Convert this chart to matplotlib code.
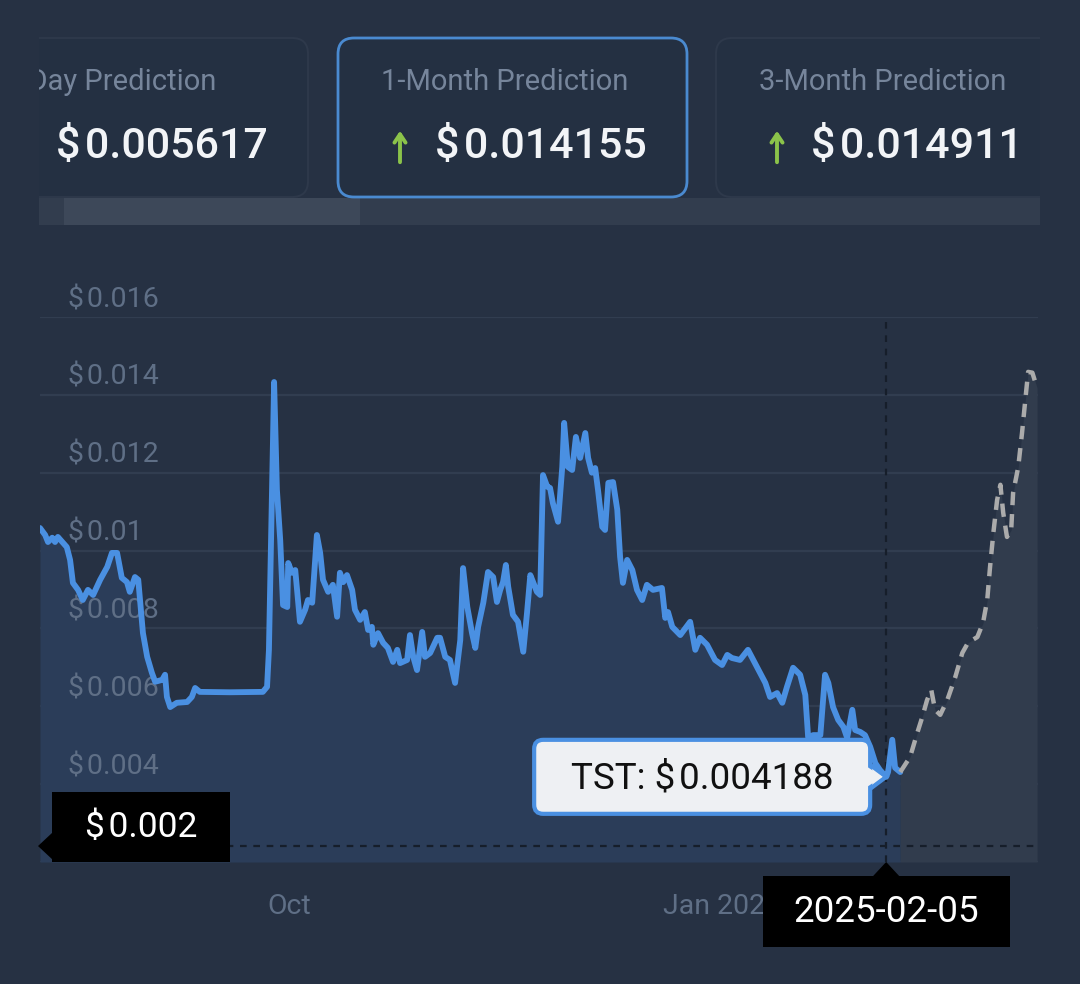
import matplotlib

matplotlib.use("Agg")
import matplotlib.patches as mpatches
import matplotlib.pyplot as plt
import pandas as pd

W, H = 1080, 984
START = pd.Timestamp("2024-08-09")

BG = "#263143"
GRID = "#313d50"
TICK_C = "#5f6f86"
BLUE = "#4a90e2"
SP = "\u200a"  # narrow gap after the dollar sign

# price history: days since START, price in USD
hist_day = [
    0.0, 1.1, 1.7, 2.6, 3.2, 3.8, 4.9, 5.7, 6.4, 7.0,
    8.1, 9.1, 10.2, 11.3, 12.8, 14.3, 15.3, 16.4, 17.4, 18.5,
    19.1, 20.2, 20.9, 21.9, 22.8, 23.8, 24.5, 26.0, 26.6, 27.0,
    27.7, 29.1, 31.3, 32.3, 33.0, 34.0, 40.4, 47.4, 48.3, 48.7,
    49.8, 50.4, 51.1, 51.7, 52.6, 52.8, 53.6, 54.3, 55.3, 56.4,
    57.0, 57.9, 58.9, 59.6, 60.2, 61.3, 62.3, 63.2, 63.8, 64.5,
    65.3, 66.4, 67.0, 68.1, 69.1, 69.8, 70.6, 70.9, 71.9, 73.0,
    74.0, 75.1, 76.0, 76.6, 78.1, 78.7, 79.4, 80.2, 81.3, 81.9,
    83.0, 84.5, 85.1, 86.2, 87.2, 88.3, 89.4, 90.0, 90.9, 91.9,
    92.6, 93.2, 94.3, 95.3, 96.4, 97.2, 97.9, 98.5, 99.1, 99.6,
    100.6, 101.7, 102.8, 103.6, 104.3, 104.9, 105.7, 106.4, 107.0, 107.9,
    108.5, 109.1, 110.2, 111.1, 111.5, 112.3, 113.2, 114.0, 114.9, 116.0,
    116.6, 117.4, 118.1, 118.7, 119.6, 120.2, 120.9, 121.9, 122.8, 123.4,
    124.0, 124.9, 126.0, 127.0, 128.1, 129.1, 130.4, 132.3, 133.0, 133.6,
    134.5, 136.2, 138.3, 139.4, 140.4, 141.9, 143.6, 145.1, 146.2, 147.2,
    148.9, 150.6, 152.6, 154.3, 155.3, 156.8, 157.9, 158.9, 160.2, 161.7,
    162.8, 163.4, 164.5, 166.0, 167.0, 167.7, 168.7, 169.8, 170.9, 171.7,
    172.8, 173.4, 174.5, 175.5, 176.6, 177.7, 178.7, 180.0, 180.4, 181.3,
    181.9, 183.0,
]
hist_price = [
    0.01058, 0.01040, 0.01022, 0.01033, 0.01022, 0.01035, 0.01020, 0.01009, 0.00976, 0.00917,
    0.00899, 0.00873, 0.00899, 0.00886, 0.00925, 0.00958, 0.00994, 0.00994, 0.00930, 0.00919,
    0.00894, 0.00932, 0.00925, 0.00788, 0.00727, 0.00686, 0.00663, 0.00668, 0.00681, 0.00624,
    0.00598, 0.00609, 0.00611, 0.00624, 0.00647, 0.00637, 0.00636, 0.00637, 0.00650, 0.00745,
    0.01433, 0.01156, 0.01027, 0.00860, 0.00855, 0.00968, 0.00943, 0.00950, 0.00817, 0.00848,
    0.00873, 0.00866, 0.01040, 0.00994, 0.00925, 0.00894, 0.00912, 0.00830, 0.00943, 0.00919,
    0.00937, 0.00899, 0.00848, 0.00822, 0.00842, 0.00796, 0.00804, 0.00758, 0.00788, 0.00763,
    0.00750, 0.00714, 0.00745, 0.00711, 0.00719, 0.00783, 0.00727, 0.00693, 0.00791, 0.00727,
    0.00737, 0.00776, 0.00776, 0.00727, 0.00719, 0.00660, 0.00770, 0.00955, 0.00855, 0.00788,
    0.00750, 0.00804, 0.00866, 0.00945, 0.00932, 0.00868, 0.00899, 0.00919, 0.00963, 0.00907,
    0.00835, 0.00817, 0.00740, 0.00840, 0.00937, 0.00919, 0.00894, 0.00886, 0.01194, 0.01164,
    0.01161, 0.01122, 0.01074, 0.01215, 0.01328, 0.01215, 0.01207, 0.01292, 0.01238, 0.01302,
    0.01238, 0.01200, 0.01212, 0.01156, 0.01061, 0.01053, 0.01174, 0.01176, 0.01105, 0.00984,
    0.00917, 0.00976, 0.00950, 0.00899, 0.00873, 0.00912, 0.00899, 0.00904, 0.00827, 0.00842,
    0.00804, 0.00783, 0.00817, 0.00745, 0.00776, 0.00758, 0.00719, 0.00706, 0.00732, 0.00724,
    0.00719, 0.00745, 0.00699, 0.00660, 0.00624, 0.00634, 0.00609, 0.00650, 0.00699, 0.00681,
    0.00629, 0.00521, 0.00526, 0.00526, 0.00681, 0.00660, 0.00598, 0.00565, 0.00547, 0.00519,
    0.00591, 0.00539, 0.00534, 0.00526, 0.00496, 0.00454, 0.00436, 0.004188, 0.00431, 0.00514,
    0.00442, 0.00431,
]

# forecast (dashed)
fc_day = [
    183.0, 185.1, 186.6, 187.7, 188.7, 189.6, 190.4, 191.5, 193.0, 194.7,
    196.2, 197.4, 199.4, 200.6, 201.5, 202.1, 202.8, 203.6, 204.3, 204.9,
    205.7, 206.6, 207.0, 208.1, 208.9, 209.6, 210.2, 211.1, 212.1,
]
fc_price = [
    0.00431, 0.00470, 0.00531, 0.00573, 0.00616, 0.00642, 0.00591, 0.00578, 0.00616, 0.00675,
    0.00737, 0.00763, 0.00778, 0.00814, 0.00873, 0.00958, 0.01045, 0.01130, 0.01169, 0.01097,
    0.01035, 0.01053, 0.01148, 0.01215, 0.01302, 0.01387, 0.01459, 0.01457, 0.01418,
]
X_END = 212.3

y_ticks = [0.002, 0.004, 0.006, 0.008, 0.010, 0.012, 0.014, 0.016]
y_tick_labels = ["", "0.004", "0.006", "0.008", "0.01", "0.012", "0.014", "0.016"]
x_tick_dates = ["2024-10-01", "2025-01-01"]
x_tick_labels = ["Oct", "Jan 2025"]

card_titles = ["7-Day Prediction", "1-Month Prediction", "3-Month Prediction"]
card_values = ["0.005617", "0.014155", "0.014911"]
card_up = [False, True, True]

hover_date = "2025-02-05"
hover_price = 0.004188
hover_label = "TST: $" + SP + "0.004188"
cross_price = 0.00241
cross_label = "0.002"

plt.rcParams["font.family"] = ["Roboto", "DejaVu Sans"]


def days(date_str):
    return (pd.Timestamp(date_str) - START).days


def money(s):
    return "$" + SP + s


fig = plt.figure(figsize=(W / 100, H / 100), dpi=100, facecolor=BG)

# ---- chart ----
ax = fig.add_axes([40 / W, 122 / H, 998 / W, 545 / H])
ax.set_facecolor("none")
ax.set_xlim(0, X_END)
ax.set_ylim(0.002, 0.016)
ax.axis("off")

for v in y_ticks:
    ax.axhline(v, color=GRID, lw=1.6, zorder=1)
for v, lab in zip(y_ticks, y_tick_labels):
    if lab:
        ax.annotate(money(lab), xy=(0.028, v), xycoords=("axes fraction", "data"),
                    xytext=(0, 12.5), textcoords="offset points",
                    ha="left", va="center", fontsize=20.5, color=TICK_C, zorder=2)
for d, lab in zip(x_tick_dates, x_tick_labels):
    ax.text(days(d), -0.082, lab, transform=ax.get_xaxis_transform(),
            ha="center", va="center", fontsize=20.5, color=TICK_C)

ax.fill_between(hist_day, hist_price, 0.002, color="#2b3d59", lw=0, zorder=1.5)
ax.fill_between(fc_day, fc_price, 0.002, color="#313c4d", lw=0, zorder=1.5)
ax.plot(hist_day, hist_price, color=BLUE, lw=4.2, solid_joinstyle="round",
        solid_capstyle="round", zorder=3)
fc_line, = ax.plot(fc_day, fc_price, color="#ababab", lw=3.2, zorder=3)
fc_line.set_dashes((3, 2))

hx = days(hover_date)
ax.axvline(hx, color="#161e2a", lw=1.6, dashes=(3, 3), zorder=2.5)
ax.axhline(cross_price, color="#161e2a", lw=1.6, dashes=(3, 3), zorder=2.5)

# ---- overlay in pixel coordinates (y down) ----
ov = fig.add_axes([0, 0, 1, 1], zorder=5)
ov.set_xlim(0, W)
ov.set_ylim(H, 0)
ov.axis("off")
ov.patch.set_alpha(0)


def to_px(x, y):
    dx, dy = ax.transData.transform((x, y))
    return dx, H - dy


clip = mpatches.Rectangle((39, 0), 1001, 260, transform=ov.transData,
                          fc="none", ec="none")
ov.add_patch(clip)

cards = [(-60, 308), (338, 687), (716, 1120)]
for i, (x0, x1) in enumerate(cards):
    hl = i == 1
    p = mpatches.FancyBboxPatch((x0, 38), x1 - x0, 159,
                                boxstyle="round,pad=0,rounding_size=16",
                                fc="#243042", ec="#4a8ad0" if hl else "#2e394b",
                                lw=2.0 if hl else 1.4, zorder=2)
    ov.add_patch(p)
    p.set_clip_path(clip)

# scrollbar
ov.add_patch(mpatches.Rectangle((39, 198), 1001, 27, fc="#323d4e", ec="none", zorder=1))
ov.add_patch(mpatches.Rectangle((64, 198), 296, 27, fc="#3d4859", ec="none", zorder=1.5))

ov.text(216, 82, card_titles[0], ha="right", va="center", fontsize=21,
        color="#76859b", zorder=3)
# the scroll container hides what lies left of it
ov.add_patch(mpatches.Rectangle((0, 30), 39, 175, fc=BG, ec="none", zorder=4))
ov.text(505, 82, card_titles[1], ha="center", va="center", fontsize=21,
        color="#76859b", zorder=3)
ov.text(883, 82, card_titles[2], ha="center", va="center", fontsize=21,
        color="#76859b", zorder=3)

value_x = [162, 541, 917]
arrow_x = [None, 400, 777]
for vx, axx, val, up in zip(value_x, arrow_x, card_values, card_up):
    ov.text(vx, 146, money(val), ha="center", va="center", fontsize=31,
            fontweight="medium", color="#f2f4f7", zorder=3)
    if up:
        ov.annotate("", xy=(axx, 128), xytext=(axx, 165),
                    arrowprops=dict(arrowstyle="->,head_length=0.6,head_width=0.4",
                                    lw=2.8, color="#8bc34a"), zorder=3)

# tooltip
tx, ty = to_px(hx, hover_price)
bx1 = tx - 16
bx0 = bx1 - 336
tri = mpatches.Polygon([(bx1 - 4, ty - 15), (tx, ty), (bx1 - 4, ty + 15)],
                       closed=True, fc="#eef0f3", ec=BLUE, lw=3, zorder=6)
ov.add_patch(tri)
box = mpatches.FancyBboxPatch((bx0, ty - 37), 336, 74,
                              boxstyle="round,pad=0,rounding_size=9",
                              fc="#eef0f3", ec=BLUE, lw=3, zorder=6)
ov.add_patch(box)
ov.add_patch(mpatches.Polygon([(bx1 - 6, ty - 12), (tx - 4, ty), (bx1 - 6, ty + 12)],
                              closed=True, fc="#eef0f3", ec="none", zorder=6.5))
ov.text((bx0 + bx1) / 2, ty + 2, hover_label, ha="center", va="center",
        fontsize=26.5, color="#111111", zorder=7)

# date box on the x axis
_, by = to_px(hx, 0.002)
ov.add_patch(mpatches.Polygon([(tx - 13, by + 14), (tx, by), (tx + 13, by + 14)],
                              closed=True, fc="black", ec="none", zorder=6))
ov.add_patch(mpatches.Rectangle((tx - 123, by + 14), 247, 71, fc="black",
                                ec="none", zorder=6))
ov.text(tx, by + 50, hover_date, ha="center", va="center", fontsize=26.5,
        color="white", zorder=7)

# price box on the y axis
lx, cy = to_px(0, cross_price)
ov.add_patch(mpatches.Polygon([(lx + 13, cy - 14), (lx - 2, cy), (lx + 13, cy + 14)],
                              closed=True, fc="black", ec="none", zorder=6))
ov.add_patch(mpatches.Rectangle((lx + 12, cy - 54), 178, 70, fc="black",
                                ec="none", zorder=6))
ov.text(lx + 101, cy - 19, money(cross_label), ha="center", va="center",
        fontsize=25.5, color="white", zorder=7)

fig.savefig("out.png", dpi=100, facecolor=BG)
